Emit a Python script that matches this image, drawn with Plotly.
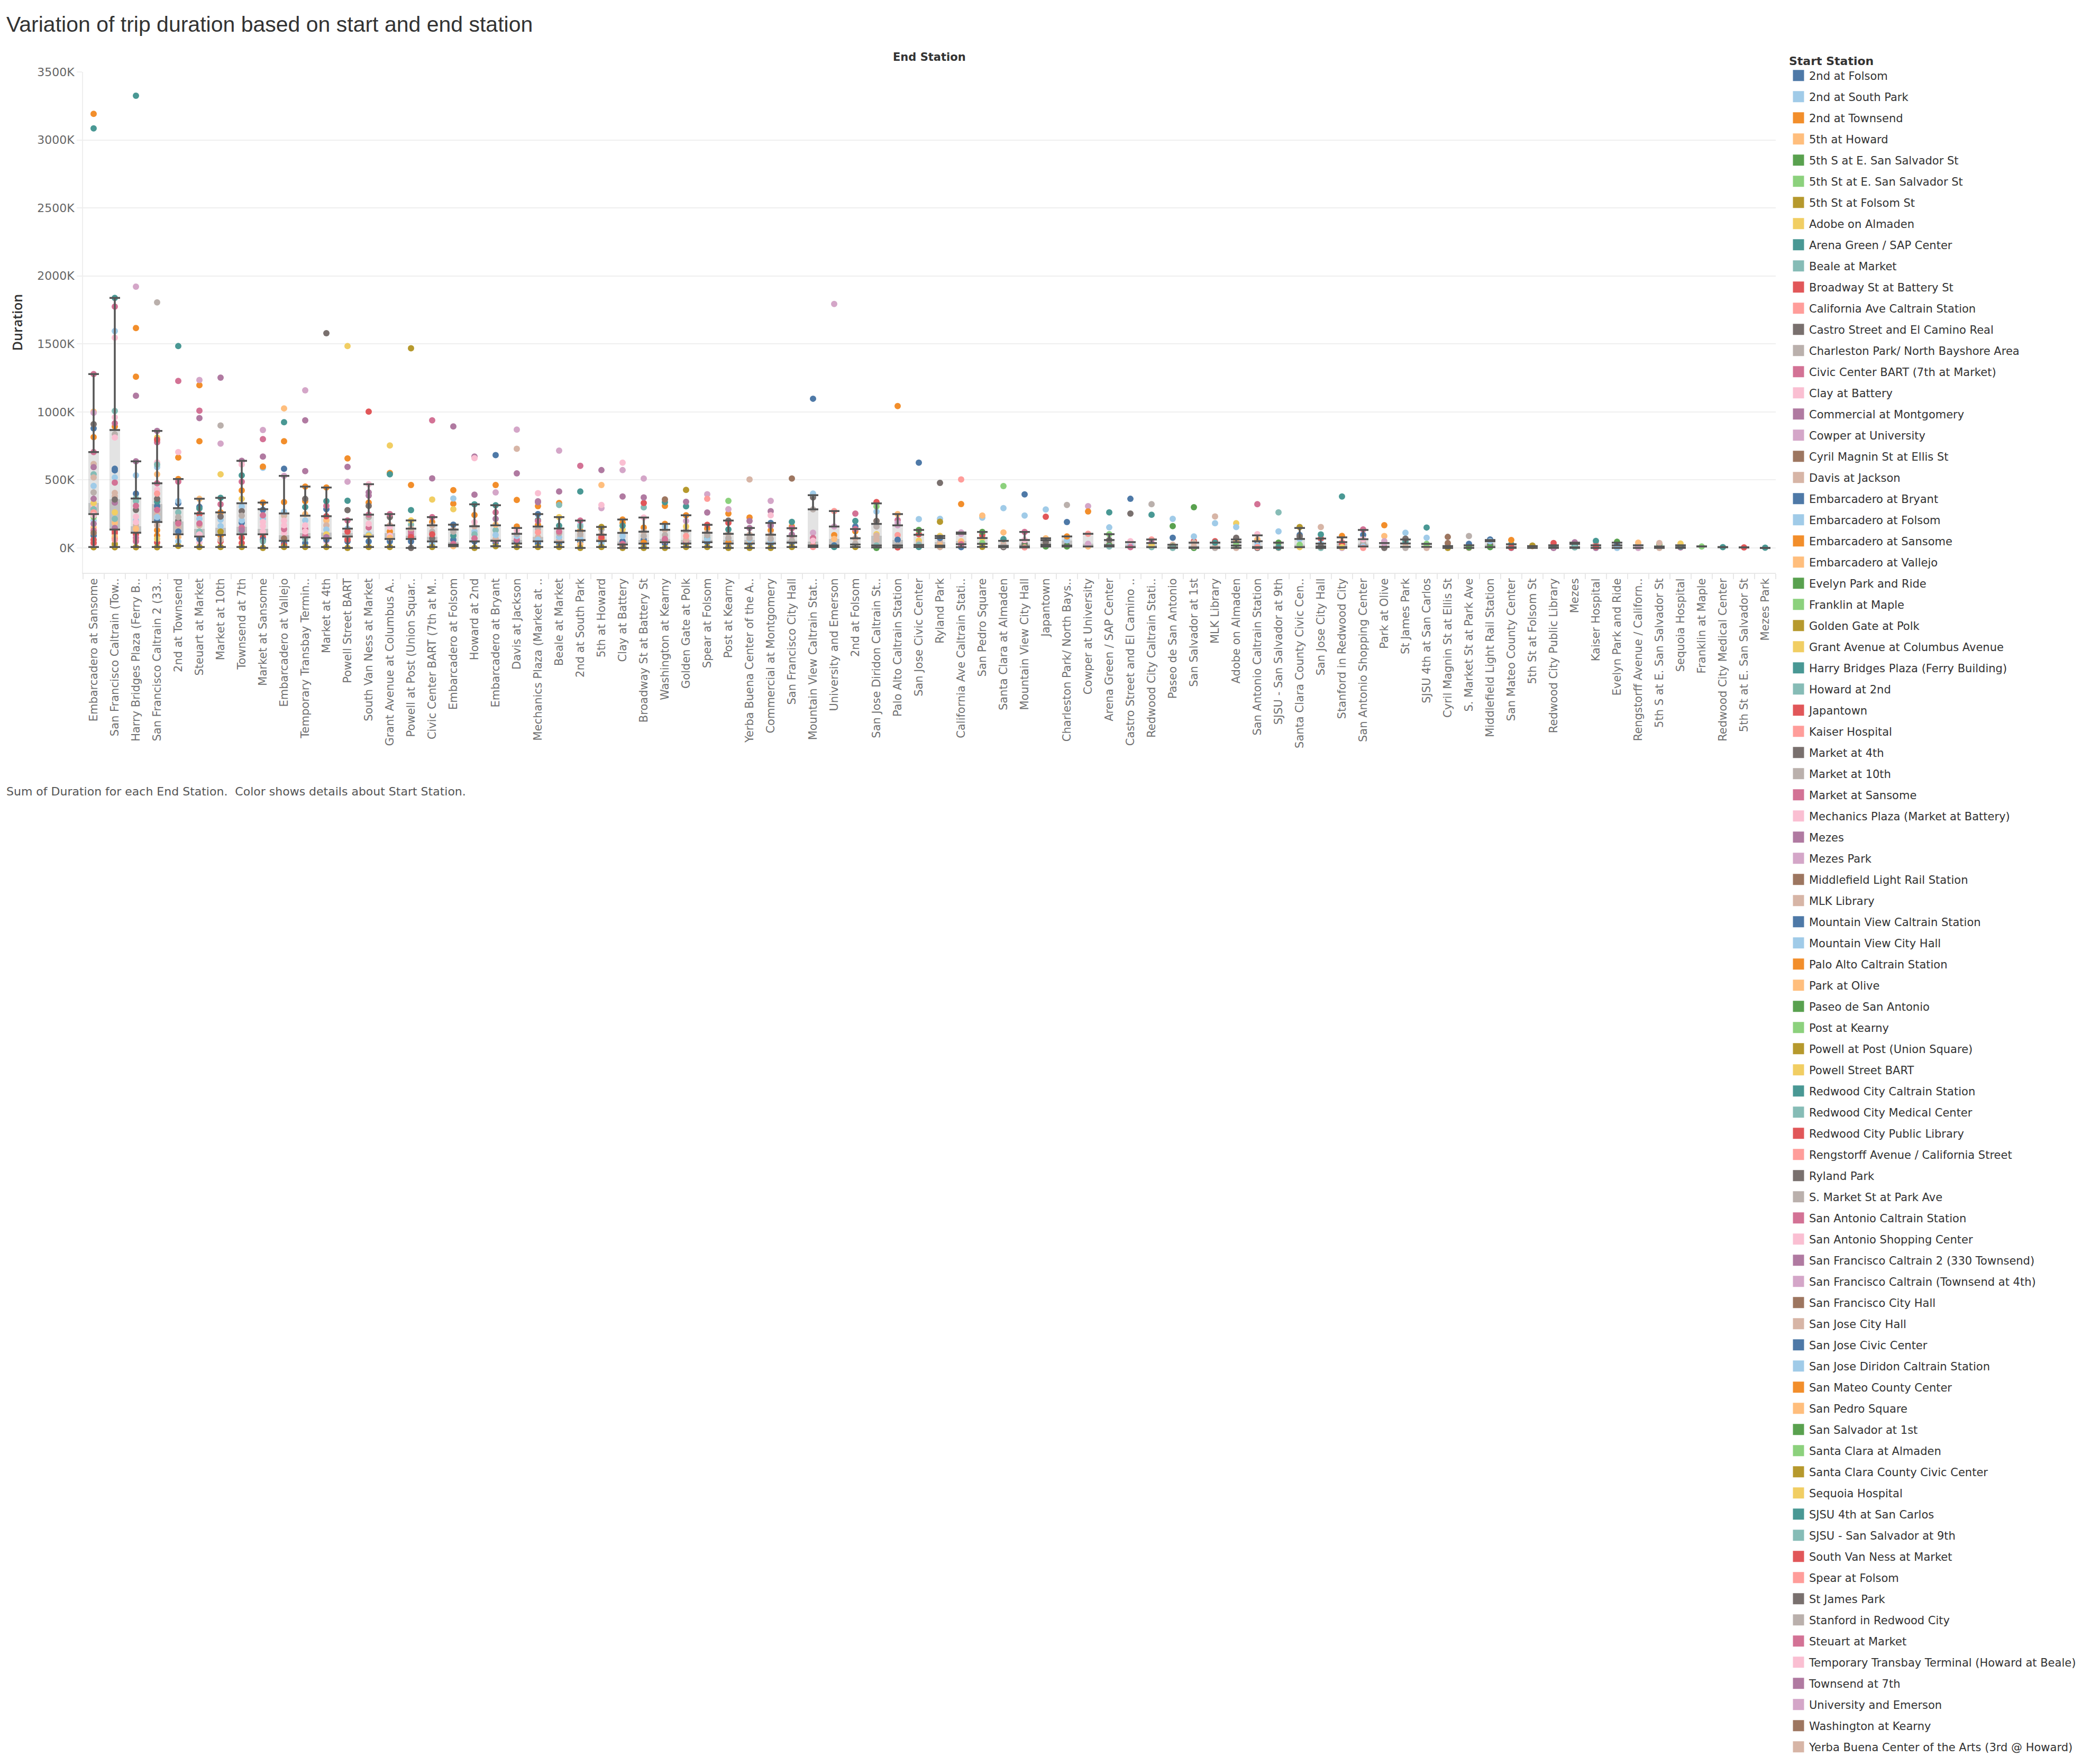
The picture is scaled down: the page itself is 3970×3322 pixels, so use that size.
import plotly.graph_objects as go

TITLE = "Variation of trip duration based on start and end station"
FOOTNOTE = "Sum of Duration for each End Station.  Color shows details about Start Station."

# Start stations (legend order); colours cycle through the Tableau 20 palette
start_stations = [
    "2nd at Folsom", "2nd at South Park", "2nd at Townsend", "5th at Howard",
    "5th S at E. San Salvador St", "5th St at E. San Salvador St", "5th St at Folsom St",
    "Adobe on Almaden", "Arena Green / SAP Center", "Beale at Market",
    "Broadway St at Battery St", "California Ave Caltrain Station",
    "Castro Street and El Camino Real", "Charleston Park/ North Bayshore Area",
    "Civic Center BART (7th at Market)", "Clay at Battery", "Commercial at Montgomery",
    "Cowper at University", "Cyril Magnin St at Ellis St", "Davis at Jackson",
    "Embarcadero at Bryant", "Embarcadero at Folsom", "Embarcadero at Sansome",
    "Embarcadero at Vallejo", "Evelyn Park and Ride", "Franklin at Maple",
    "Golden Gate at Polk", "Grant Avenue at Columbus Avenue",
    "Harry Bridges Plaza (Ferry Building)", "Howard at 2nd", "Japantown",
    "Kaiser Hospital", "Market at 4th", "Market at 10th", "Market at Sansome",
    "Mechanics Plaza (Market at Battery)", "Mezes", "Mezes Park",
    "Middlefield Light Rail Station", "MLK Library", "Mountain View Caltrain Station",
    "Mountain View City Hall", "Palo Alto Caltrain Station", "Park at Olive",
    "Paseo de San Antonio", "Post at Kearny", "Powell at Post (Union Square)",
    "Powell Street BART", "Redwood City Caltrain Station", "Redwood City Medical Center",
    "Redwood City Public Library", "Rengstorff Avenue / California Street", "Ryland Park",
    "S. Market St at Park Ave", "San Antonio Caltrain Station", "San Antonio Shopping Center",
    "San Francisco Caltrain 2 (330 Townsend)", "San Francisco Caltrain (Townsend at 4th)",
    "San Francisco City Hall", "San Jose City Hall", "San Jose Civic Center",
    "San Jose Diridon Caltrain Station", "San Mateo County Center", "San Pedro Square",
    "San Salvador at 1st", "Santa Clara at Almaden", "Santa Clara County Civic Center",
    "Sequoia Hospital", "SJSU 4th at San Carlos", "SJSU - San Salvador at 9th",
    "South Van Ness at Market", "Spear at Folsom", "St James Park",
    "Stanford in Redwood City", "Steuart at Market",
    "Temporary Transbay Terminal (Howard at Beale)", "Townsend at 7th",
    "University and Emerson", "Washington at Kearny",
    "Yerba Buena Center of the Arts (3rd @ Howard)",
]

palette = ["#4E79A7", "#A0CBE8", "#F28E2B", "#FFBE7D", "#59A14F", "#8CD17D", "#B6992D",
           "#F1CE63", "#499894", "#86BCB6", "#E15759", "#FF9D9A", "#79706E", "#BAB0AC",
           "#D37295", "#FABFD2", "#B07AA1", "#D4A6C8", "#9D7660", "#D7B5A6"]

# End stations (x categories, as labelled on the axis)
end_stations = [
    "Embarcadero at Sansome", "San Francisco Caltrain (Tow..", "Harry Bridges Plaza (Ferry B..",
    "San Francisco Caltrain 2 (33..", "2nd at Townsend", "Steuart at Market", "Market at 10th",
    "Townsend at 7th", "Market at Sansome", "Embarcadero at Vallejo",
    "Temporary Transbay Termin..", "Market at 4th", "Powell Street BART",
    "South Van Ness at Market", "Grant Avenue at Columbus A..", "Powell at Post (Union Squar..",
    "Civic Center BART (7th at M..", "Embarcadero at Folsom", "Howard at 2nd",
    "Embarcadero at Bryant", "Davis at Jackson", "Mechanics Plaza (Market at ..",
    "Beale at Market", "2nd at South Park", "5th at Howard", "Clay at Battery",
    "Broadway St at Battery St", "Washington at Kearny", "Golden Gate at Polk",
    "Spear at Folsom", "Post at Kearny", "Yerba Buena Center of the A..",
    "Commercial at Montgomery", "San Francisco City Hall", "Mountain View Caltrain Stat..",
    "University and Emerson", "2nd at Folsom", "San Jose Diridon Caltrain St..",
    "Palo Alto Caltrain Station", "San Jose Civic Center", "Ryland Park",
    "California Ave Caltrain Stati..", "San Pedro Square", "Santa Clara at Almaden",
    "Mountain View City Hall", "Japantown", "Charleston Park/ North Bays..",
    "Cowper at University", "Arena Green / SAP Center", "Castro Street and El Camino ..",
    "Redwood City Caltrain Stati..", "Paseo de San Antonio", "San Salvador at 1st",
    "MLK Library", "Adobe on Almaden", "San Antonio Caltrain Station",
    "SJSU - San Salvador at 9th", "Santa Clara County Civic Cen..", "San Jose City Hall",
    "Stanford in Redwood City", "San Antonio Shopping Center", "Park at Olive",
    "St James Park", "SJSU 4th at San Carlos", "Cyril Magnin St at Ellis St",
    "S. Market St at Park Ave", "Middlefield Light Rail Station", "San Mateo County Center",
    "5th St at Folsom St", "Redwood City Public Library", "Mezes", "Kaiser Hospital",
    "Evelyn Park and Ride", "Rengstorff Avenue / Californ..", "5th S at E. San Salvador St",
    "Sequoia Hospital", "Franklin at Maple", "Redwood City Medical Center",
    "5th St at E. San Salvador St", "Mezes Park",
]

# Box-plot statistics per end station (sum of duration, thousands)
box_lower = [7, 7, 7, 7, 14, 7, 7, 7, 0, 7, 7, 7, 0, 7, 7, 0, 7, 12, 0, 12,
             7, 7, 7, 0, 7, 0, 0, 0, 7, 7, 0, 0, 0, 7, 7, 7, 7, 4, 4, 7,
             6, 6, 8, 6, 4, 10, 10, 10, 10, 6, 6, 0, 0, 0, 0, 0, 0, 6, 0, 0,
             10, 8, 8, 8, 0, 0, 6, 0, 0, 0, 0, 0, 0, 0, 0, 0, 10, 6, 4, 0]
box_q1 = [249, 135, 112, 190, 100, 83, 95, 100, 100, 52, 78, 71, 83, 83, 66, 66, 47, 24, 47, 52,
          32, 48, 42, 57, 50, 25, 32, 42, 32, 42, 32, 32, 32, 39, 18, 18, 25, 18, 18, 21,
          17, 27, 30, 14, 10, 23, 17, 10, 19, 6, 6, 4, 4, 4, 17, 6, 4, 6, 10, 6,
          10, 8, 8, 8, 0, 0, 6, 4, 0, 4, 4, 0, 0, 0, 0, 4, 10, 6, 4, 0]
box_median = [332, 356, 161, 321, 195, 138, 147, 154, 138, 95, 107, 114, 107, 102, 107, 90, 83, 43, 59, 66,
              60, 80, 55, 66, 66, 48, 60, 66, 60, 60, 60, 60, 46, 53, 48, 66, 32, 91, 60, 32,
              43, 49, 36, 23, 30, 43, 56, 30, 30, 23, 19, 10, 10, 10, 23, 17, 10, 23, 19, 30,
              30, 17, 17, 17, 4, 10, 23, 17, 4, 10, 17, 10, 10, 4, 4, 10, 10, 6, 4, 0]
box_q3 = [705, 867, 363, 475, 292, 254, 261, 328, 285, 254, 237, 233, 142, 245, 166, 142, 166, 135, 159, 166,
          104, 157, 143, 126, 97, 111, 119, 133, 126, 112, 104, 97, 97, 87, 284, 157, 71, 177, 166, 97,
          73, 104, 73, 52, 58, 56, 84, 104, 58, 43, 36, 23, 39, 39, 43, 49, 39, 66, 32, 43,
          64, 36, 33, 30, 13, 19, 49, 27, 13, 19, 30, 19, 19, 19, 10, 19, 10, 6, 4, 0]
box_upper = [1278, 1838, 637, 860, 506, 361, 368, 641, 333, 530, 451, 444, 209, 468, 249, 202, 226, 171, 321, 314,
             147, 249, 226, 201, 154, 209, 223, 177, 240, 170, 201, 147, 184, 145, 388, 271, 139, 327, 249, 132,
             88, 114, 117, 52, 117, 71, 84, 104, 101, 43, 62, 23, 39, 39, 62, 92, 39, 147, 69, 78,
             132, 36, 62, 30, 13, 19, 58, 27, 13, 19, 39, 19, 39, 19, 10, 19, 10, 6, 4, 0]

# Per end station: (start station number in legend order, sum of duration in thousands)
trip_sums = [
    [(23, 3192), (29, 3085), (75, 1278), (24, 1002), (58, 993), (33, 910), (21, 879), (3, 815), (35, 705),
     (20, 617), (57, 594), (10, 541), (80, 518), (22, 456), (34, 408), (77, 361), (16, 309), (72, 261),
     (46, 226), (2, 202), (17, 178), (1, 90), (36, 24), (27, 5), (15, 128), (48, 330), (30, 285),
     (76, 240), (4, 150), (11, 60), (71, 38), (79, 110)],
    [(29, 1838), (75, 1774), (22, 1594), (76, 1546), (30, 1007), (16, 960), (35, 917), (23, 893), (34, 836),
     (36, 812), (21, 582), (1, 570), (2, 518), (15, 480), (80, 404), (20, 380), (33, 356), (17, 333),
     (48, 261), (10, 214), (4, 185), (57, 147), (11, 107), (24, 83), (3, 71), (72, 59), (27, 5),
     (47, 30), (71, 120), (28, 20)],
    [(29, 3325), (58, 1921), (23, 1617), (3, 1259), (57, 1119), (17, 637), (22, 534), (21, 399), (30, 363),
     (10, 344), (75, 309), (33, 280), (2, 202), (20, 166), (11, 100), (35, 76), (15, 47), (27, 5),
     (24, 140), (16, 230), (36, 190), (4, 60)],
    [(34, 1805), (17, 860), (48, 812), (71, 796), (15, 777), (16, 629), (30, 613), (2, 594), (4, 541),
     (75, 475), (36, 428), (72, 399), (33, 361), (21, 309), (20, 249), (22, 226), (80, 166), (3, 90),
     (28, 66), (11, 40), (27, 5), (35, 280), (29, 340), (23, 130), (1, 200)],
    [(29, 1484), (35, 1228), (76, 705), (23, 665), (3, 506), (15, 487), (2, 344), (1, 328), (10, 261),
     (34, 226), (20, 154), (22, 47), (27, 14), (21, 120), (33, 200), (75, 180), (4, 80)],
    [(58, 1235), (23, 1197), (15, 1009), (57, 955), (3, 784), (4, 361), (1, 302), (11, 249), (22, 214),
     (20, 166), (21, 66), (27, 7), (29, 290), (35, 180), (10, 120), (76, 100), (16, 40)],
    [(57, 1252), (34, 900), (58, 767), (48, 541), (29, 368), (15, 321), (3, 261), (22, 207), (2, 160),
     (71, 47), (27, 7), (33, 230), (47, 120), (23, 90), (80, 60)],
    [(57, 641), (76, 613), (29, 534), (15, 487), (3, 423), (48, 361), (2, 304), (34, 237), (22, 202),
     (1, 185), (10, 120), (11, 36), (27, 7), (71, 75), (33, 270), (35, 150), (77, 130)],
    [(58, 867), (75, 800), (57, 672), (23, 598), (22, 589), (3, 333), (1, 280), (2, 214), (16, 190),
     (30, 47), (27, 0), (35, 240), (36, 120), (76, 160), (11, 80), (21, 60)],
    [(24, 1026), (29, 924), (23, 784), (21, 582), (58, 530), (3, 337), (22, 266), (20, 237), (76, 166),
     (35, 138), (1, 36), (27, 7), (36, 200), (16, 110), (79, 70), (11, 20)],
    [(58, 1159), (57, 938), (77, 565), (23, 451), (33, 361), (3, 344), (4, 249), (22, 202), (36, 166),
     (10, 66), (1, 36), (27, 7), (29, 300), (15, 140), (35, 90), (76, 120)],
    [(33, 1579), (3, 444), (29, 344), (15, 309), (1, 285), (4, 202), (20, 166), (22, 135), (16, 47),
     (27, 7), (71, 233), (48, 100), (57, 80), (21, 60)],
    [(48, 1484), (3, 658), (57, 596), (58, 487), (29, 347), (33, 278), (15, 202), (22, 142), (11, 59),
     (1, 47), (27, 0), (71, 120), (34, 95), (4, 70)],
    [(71, 1002), (76, 468), (57, 408), (77, 385), (3, 333), (33, 309), (35, 245), (34, 226), (16, 178),
     (1, 47), (27, 7), (15, 150), (2, 100), (48, 90)],
    [(28, 753), (29, 541), (23, 551), (35, 249), (33, 226), (20, 166), (36, 154), (1, 47), (27, 7),
     (3, 120), (16, 90), (24, 75)],
    [(47, 1468), (3, 463), (29, 278), (48, 202), (10, 171), (20, 142), (35, 100), (1, 47), (33, 0),
     (15, 120), (71, 80)],
    [(15, 938), (57, 511), (48, 356), (35, 226), (3, 190), (20, 166), (34, 119), (2, 28), (27, 7),
     (71, 100), (33, 70), (22, 55)],
    [(57, 893), (23, 425), (22, 363), (3, 325), (48, 285), (21, 171), (20, 135), (34, 119), (24, 12),
     (1, 60), (29, 90), (35, 30)],
    [(57, 672), (76, 660), (77, 392), (29, 321), (3, 242), (36, 190), (20, 159), (30, 100), (1, 47),
     (27, 0), (35, 70), (2, 120)],
    [(21, 682), (3, 463), (58, 408), (29, 314), (35, 261), (57, 214), (24, 171), (10, 131), (22, 95),
     (1, 36), (27, 12), (20, 66), (15, 55)],
    [(58, 870), (20, 729), (57, 548), (23, 353), (3, 157), (34, 104), (22, 87), (1, 46), (27, 7),
     (15, 60), (76, 130)],
    [(36, 402), (57, 343), (77, 336), (23, 307), (21, 249), (29, 205), (35, 198), (3, 170), (72, 115),
     (1, 32), (27, 7), (20, 80), (22, 60), (34, 140)],
    [(58, 715), (57, 415), (3, 330), (10, 316), (48, 226), (29, 163), (34, 108), (1, 32), (27, 7),
     (20, 55), (22, 80), (35, 120)],
    [(15, 604), (29, 415), (75, 201), (2, 170), (30, 157), (34, 101), (1, 46), (24, 25), (27, 0),
     (22, 66), (3, 126), (20, 85)],
    [(57, 572), (4, 463), (76, 316), (58, 292), (47, 154), (34, 136), (20, 97), (22, 32), (27, 7),
     (3, 66), (1, 50), (71, 80)],
    [(16, 627), (58, 572), (57, 378), (23, 209), (3, 184), (29, 163), (28, 136), (20, 111), (22, 87),
     (79, 11), (27, 0), (1, 48), (35, 30)],
    [(58, 510), (57, 371), (11, 330), (10, 298), (76, 223), (3, 150), (20, 119), (34, 87), (22, 18),
     (27, 0), (1, 60), (23, 40)],
    [(79, 357), (29, 336), (23, 309), (3, 177), (22, 157), (20, 133), (34, 94), (1, 32), (27, 0),
     (35, 66), (15, 50)],
    [(27, 427), (57, 339), (29, 306), (3, 240), (58, 198), (48, 157), (34, 126), (72, 87), (1, 32),
     (7, 7), (20, 60), (15, 45)],
    [(58, 395), (72, 361), (57, 260), (71, 170), (3, 143), (20, 112), (34, 94), (1, 42), (27, 7),
     (22, 60), (10, 75)],
    [(46, 346), (58, 285), (3, 253), (33, 201), (71, 184), (29, 136), (20, 104), (34, 73), (1, 7),
     (27, 0), (22, 60), (23, 40)],
    [(80, 503), (3, 223), (57, 198), (77, 147), (20, 97), (34, 73), (1, 32), (27, 0), (22, 60), (4, 45)],
    [(58, 346), (17, 270), (76, 240), (21, 184), (57, 163), (3, 129), (20, 97), (34, 66), (1, 32),
     (27, 0), (22, 46)],
    [(59, 510), (29, 191), (3, 157), (57, 98), (20, 87), (34, 53), (1, 39), (27, 7), (15, 145)],
    [(41, 1097), (42, 399), (13, 371), (14, 284), (18, 112), (55, 73), (56, 53), (25, 48), (52, 18),
     (12, 7)],
    [(78, 1794), (12, 271), (18, 157), (43, 94), (44, 66), (41, 18), (49, 7)],
    [(35, 253), (29, 198), (1, 157), (15, 139), (3, 122), (20, 71), (34, 32), (22, 25), (27, 7)],
    [(31, 337), (66, 305), (62, 267), (64, 198), (73, 198), (54, 157), (8, 101), (60, 91), (40, 60),
     (70, 18), (65, 0), (9, 4)],
    [(43, 1043), (44, 249), (55, 205), (78, 184), (18, 166), (12, 94), (41, 60), (74, 18), (51, 4)],
    [(61, 627), (62, 212), (65, 132), (31, 101), (8, 53), (40, 32), (70, 21), (9, 7)],
    [(53, 478), (62, 214), (67, 192), (8, 88), (61, 73), (60, 43), (64, 17), (40, 6)],
    [(12, 503), (43, 323), (78, 114), (18, 104), (44, 49), (41, 6), (55, 27)],
    [(64, 238), (62, 222), (65, 117), (31, 95), (8, 73), (66, 36), (60, 30), (67, 8)],
    [(66, 455), (62, 292), (64, 114), (69, 65), (60, 52), (40, 23), (54, 14), (53, 6)],
    [(41, 394), (42, 238), (55, 117), (56, 58), (13, 30), (25, 10), (52, 4)],
    [(62, 283), (31, 229), (64, 71), (60, 56), (73, 43), (8, 23), (65, 10)],
    [(14, 316), (41, 190), (43, 84), (42, 56), (13, 17), (25, 10)],
    [(18, 307), (43, 268), (12, 104), (78, 30), (44, 10)],
    [(9, 261), (62, 151), (66, 101), (73, 58), (60, 30), (65, 19), (70, 10)],
    [(41, 361), (13, 253), (56, 49), (42, 23), (55, 6)],
    [(74, 322), (49, 244), (32, 62), (37, 36), (68, 19), (50, 6)],
    [(62, 214), (45, 160), (61, 75), (60, 23), (65, 10), (70, 0)],
    [(65, 299), (62, 84), (31, 49), (60, 39), (40, 10), (5, 0)],
    [(40, 231), (62, 182), (31, 49), (69, 39), (60, 10), (54, 0)],
    [(8, 182), (62, 153), (73, 75), (31, 62), (64, 43), (66, 23), (40, 17), (60, 0)],
    [(55, 322), (56, 101), (44, 62), (41, 49), (42, 17), (52, 6), (13, 0)],
    [(70, 261), (62, 121), (65, 39), (60, 10), (69, 4), (40, 0)],
    [(67, 153), (61, 95), (73, 84), (62, 66), (66, 23), (8, 6)],
    [(60, 153), (69, 99), (31, 69), (62, 32), (40, 19), (73, 10), (70, 0)],
    [(49, 378), (63, 88), (32, 43), (51, 30), (68, 6), (38, 0)],
    [(55, 136), (41, 96), (56, 64), (14, 36), (13, 30), (52, 0), (42, 10)],
    [(43, 167), (44, 87), (78, 49), (18, 36), (12, 8), (13, 0)],
    [(62, 112), (73, 68), (69, 49), (60, 33), (8, 8), (54, 0)],
    [(69, 150), (62, 75), (66, 30), (8, 17), (60, 0)],
    [(19, 81), (59, 36), (33, 13), (1, 4), (27, 0)],
    [(54, 87), (61, 30), (60, 19), (65, 4), (40, 0)],
    [(41, 62), (42, 49), (13, 23), (25, 6)],
    [(63, 58), (49, 27), (51, 4), (37, 0)],
    [(7, 17), (3, 13)],
    [(51, 36), (49, 19), (38, 10), (37, 0)],
    [(37, 42), (32, 27), (49, 17), (50, 4)],
    [(49, 51), (32, 30), (51, 10), (37, 0)],
    [(25, 45), (41, 19), (42, 0)],
    [(44, 39), (41, 19), (78, 0)],
    [(40, 36), (5, 27), (60, 0)],
    [(68, 32), (49, 10), (37, 4)],
    [(26, 10)],
    [(49, 6)],
    [(31, 4)],
    [(49, 2)],
]

FONT = "DejaVu Sans"
fig = go.Figure()

# dots: one trace per start station
pts_x = {i: [] for i in range(1, len(start_stations) + 1)}
pts_y = {i: [] for i in range(1, len(start_stations) + 1)}
for j, pairs in enumerate(trip_sums):
    for s, v in pairs:
        pts_x[s].append(end_stations[j])
        pts_y[s].append(v)

for i, name in enumerate(start_stations, start=1):
    col = palette[(i - 1) % len(palette)]
    fig.add_trace(go.Scatter(
        x=pts_x[i], y=pts_y[i], mode="markers", name=name, legendgroup=name,
        showlegend=False, marker=dict(size=12, color=col, line=dict(width=0)),
        hovertemplate="%{x}<br>" + name + "<br>%{y}K<extra></extra>"))

# box halves (translucent, drawn over the dots)
fig.add_trace(go.Bar(
    x=end_stations, y=[m - a for m, a in zip(box_median, box_q1)], base=box_q1,
    width=0.5, marker=dict(color="rgba(120,120,120,0.45)", line=dict(width=0)),
    showlegend=False, hoverinfo="skip"))
fig.add_trace(go.Bar(
    x=end_stations, y=[b - m for b, m in zip(box_q3, box_median)], base=box_median,
    width=0.5, marker=dict(color="rgba(200,200,200,0.5)", line=dict(width=0)),
    showlegend=False, hoverinfo="skip"))

# whiskers with caps (caps also mark the hinges)
fig.add_trace(go.Scatter(
    x=end_stations, y=box_q3, mode="markers", marker=dict(size=1, color="rgba(0,0,0,0)"),
    error_y=dict(type="data", symmetric=False, array=[u - q for u, q in zip(box_upper, box_q3)],
                 arrayminus=[0] * len(box_q3), color="#555555", thickness=3.5, width=10),
    showlegend=False, hoverinfo="skip"))
fig.add_trace(go.Scatter(
    x=end_stations, y=box_q1, mode="markers", marker=dict(size=1, color="rgba(0,0,0,0)"),
    error_y=dict(type="data", symmetric=False, array=[0] * len(box_q1),
                 arrayminus=[q - l for q, l in zip(box_q1, box_lower)],
                 color="#555555", thickness=3.5, width=10),
    showlegend=False, hoverinfo="skip"))

# legend entries (square swatches)
for i, name in enumerate(start_stations, start=1):
    col = palette[(i - 1) % len(palette)]
    fig.add_trace(go.Scatter(
        x=[None], y=[None], mode="markers", name=name, legendgroup=name, showlegend=True,
        marker=dict(symbol="square", size=16, color=col, line=dict(color=col, width=5))))

fig.add_hline(y=0, line=dict(color="#bbbbbb", width=2, dash="4px,4px"), layer="below")

W, H = 3970, 3322
L, R, T, B = 149, 3970 - 3349, 128, H - 1075
ph = H - T - B

fig.update_layout(
    width=W, height=H,
    margin=dict(l=L, r=R, t=T, b=B, autoexpand=False),
    paper_bgcolor="white", plot_bgcolor="white",
    barmode="overlay", bargap=0,
    title=dict(text=TITLE, x=4 / W, xref="container", xanchor="left",
               y=1 - 38 / H, yref="container", yanchor="middle",
               font=dict(family="Liberation Sans", size=41, color="#333333")),
    font=dict(family=FONT, color="#555555"),
    legend=dict(
        title=dict(text="<b>Start Station</b>", font=dict(family=FONT, size=22, color="#333333")),
        x=(3372 - L) / 3200, xanchor="left", y=1 + (T - 86) / ph, yanchor="top",
        font=dict(family=FONT, size=21, color="#333333"),
        tracegroupgap=9.7, itemsizing="trace", maxheight=3320,
        bgcolor="rgba(0,0,0,0)", borderwidth=0),
    xaxis=dict(
        type="category", categoryorder="array", categoryarray=end_stations,
        range=[-0.5, len(end_stations) - 0.5], tickangle=-90,
        tickfont=dict(family=FONT, size=21, color="#707070"),
        showgrid=False, showline=True, linecolor="#e8e8e8", linewidth=2,
        ticks="outside", tickson="boundaries", ticklen=10, tickcolor="#e8e8e8", tickwidth=2,
        zeroline=False, fixedrange=True),
    yaxis=dict(
        range=[-183, 3500], dtick=500, tick0=0, ticksuffix="K",
        tickfont=dict(family=FONT, size=22, color="#666666"),
        showgrid=True, gridcolor="#efefef", gridwidth=2,
        showline=True, linecolor="#eeeeee", linewidth=2,
        ticks="outside", ticklen=10, tickcolor="#efefef", tickwidth=2,
        zeroline=False,
        title=dict(text="Duration", standoff=20,
                   font=dict(family="Open Sans", size=25, color="#333333", weight=600))),
    annotations=[
        dict(text="<b>End Station</b>", x=0.5, xref="paper", y=1 + (T - 100) / ph, yref="paper",
             xanchor="center", yanchor="middle", showarrow=False,
             font=dict(family=FONT, size=21, color="#333333")),
        dict(text=FOOTNOTE, x=(2 - L) / 3200, xref="paper", y=-(1488 - 1075) / ph, yref="paper",
             xanchor="left", yanchor="middle", showarrow=False,
             font=dict(family=FONT, size=22, color="#555555")),
    ],
)

fig.write_html("out.html")
